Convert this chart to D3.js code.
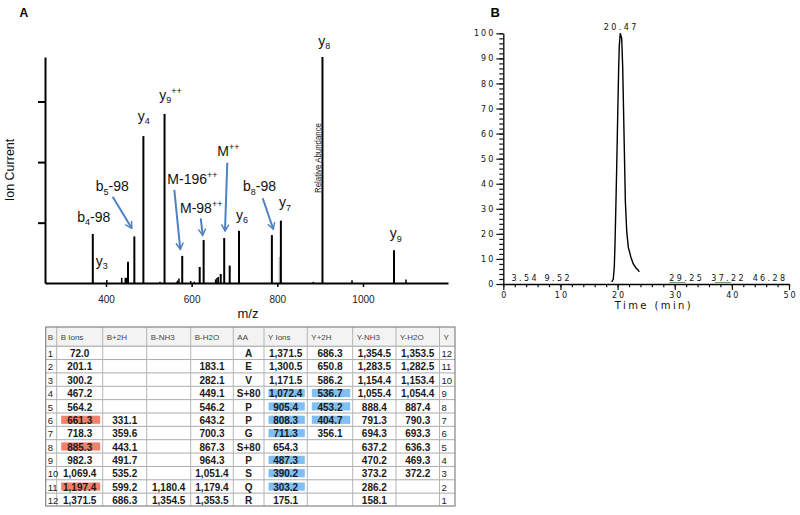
<!DOCTYPE html>
<html><head><meta charset="utf-8">
<script src="https://cdn.jsdelivr.net/npm/d3@7"></script>
<style>body{margin:0;background:#fff}svg{display:block}</style>
</head><body>
<svg id="c" width="800" height="515"></svg>
<script>
// ================= DATA =================
// Panel A: MS/MS spectrum (m/z, relative intensity, y8 = 100)
const peakMz        = [369.2, 402, 436.7, 445, 448, 451.4, 466.2, 487.3, 526, 536.7, 565, 567.4, 570.4, 578, 597.8, 606, 618.8, 628, 656, 659, 662, 667.8, 676, 688.8, 710.5, 787.3, 808.3, 884, 905.4, 974.4, 1072.4, 1100.4];
const peakIntensity = [21.7, 1.3, 2.3, 2.3, 2.3, 9.4, 20.6, 65, 0.5, 74.8, 0.5, 1.1, 2.0, 12, 0.9, 0.5, 7.1, 19, 1.6, 2.2, 2.7, 4.0, 19.9, 7.7, 23.1, 21.2, 27.6, 0.5, 100, 1.2, 14.5, 1.5];
const minorPeakMz        = [804.6];
const minorPeakIntensity = [11.6];
const mzTicks        = [400, 600, 800, 1000];
const intensityTicks = [26.7, 53.5, 80.3];
// ion labels: [text, kind] parts
const ionLabels = [
  [["y",""],["8","sub"]],
  [["y",""],["9","sub"],["++","sup"]],
  [["y",""],["4","sub"]],
  [["b",""],["5","sub"],["-98",""]],
  [["b",""],["4","sub"],["-98",""]],
  [["M-196",""],["++","sup"]],
  [["M-98",""],["++","sup"]],
  [["M",""],["++","sup"]],
  [["b",""],["8","sub"],["-98",""]],
  [["y",""],["6","sub"]],
  [["y",""],["7","sub"]],
  [["y",""],["9","sub"]],
  [["y",""],["3","sub"]]
];

// Table of fragment ions
const bNum  = ["1","2","3","4","5","6","7","8","9","10","11","12"];
const bIons = ["72.0","201.1","300.2","467.2","564.2","661.3","718.3","885.3","982.3","1,069.4","1,197.4","1,371.5"];
const b2H   = ["","","","","","331.1","359.6","443.1","491.7","535.2","599.2","686.3"];
const bNH3  = ["","","","","","","","","","","1,180.4","1,354.5"];
const bH2O  = ["","183.1","282.1","449.1","546.2","643.2","700.3","867.3","964.3","1,051.4","1,179.4","1,353.5"];
const aa    = ["A","E","V","S+80","P","P","G","S+80","P","S","Q","R"];
const yIons = ["1,371.5","1,300.5","1,171.5","1,072.4","905.4","808.3","711.3","654.3","487.3","390.2","303.2","175.1"];
const y2H   = ["686.3","650.8","586.2","536.7","453.2","404.7","356.1","","","","",""];
const yNH3  = ["1,354.5","1,283.5","1,154.4","1,055.4","888.4","791.3","694.3","637.2","470.2","373.2","286.2","158.1"];
const yH2O  = ["1,353.5","1,282.5","1,153.4","1,054.4","887.4","790.3","693.3","636.3","469.3","372.2","",""];
const yNum  = ["12","11","10","9","8","7","6","5","4","3","2","1"];
const bIonsMatched = [6, 8, 11];
const yIonsMatched = [4, 5, 6, 7, 9, 10, 11];
const y2HMatched   = [4, 5, 6];
const tableHeads = ["B","B Ions","B+2H","B-NH3","B-H2O","AA","Y Ions","Y+2H","Y-NH3","Y-H2O","Y"];

// Panel B: chromatogram
const chromTime  = [18.97, 19.25, 19.43, 19.55, 19.72, 19.84, 19.96, 20.07, 20.19, 20.30, 20.47, 20.72, 20.90, 21.13, 21.36, 21.60, 21.88, 22.35, 22.75, 23.22, 23.50, 23.80];
const chromValue = [0.8, 2, 7, 16, 33, 46, 59.6, 72.8, 86, 95, 100, 98, 86, 59.6, 33, 21, 14.6, 10.6, 8, 6.4, 5.8, 4.8];
const chromApex  = 20.47;
const chromPeakLabels = [3.54, 9.52, 29.25, 37.22, 46.28];
const timeTicks  = [0, 10, 20, 30, 40, 50];
const abundTicks = [0, 10, 20, 30, 40, 50, 60, 70, 80, 90, 100];

// ================= LAYOUT =================
// ion label anchor positions in data space [m/z, intensity]
const ionLabelPos = [[895.7,104.9],[524.5,81.0],[474.0,71.7],[376.0,40.7],[333.0,27.0],[543.2,43.8],[572.8,31.0],[659.9,56.2],[719.9,40.7],[703.6,27.9],[804.0,33.6],[1062.3,19.9],[376.0,7.7]];
const arrowPos = [
  [[415.7,38.2],[460.1,24.2]],
  [[559.5,41.2],[573.5,14.9]],
  [[621.2,28.6],[625.9,21.1]],
  [[683.2,53.2],[677.8,23.0]],
  [[765.9,37.5],[790.6,23.8]]
];
const chromLabelShift = [0.1, -0.1, 2.65, 2.0, 0.2];
const colEdges = [45.7, 56.7, 102.7, 146.7, 190.7, 233.3, 264, 307.3, 352.7, 396, 439.5, 455];

const svg = d3.select('#c');
const FA = "'Liberation Sans', Arial, sans-serif";
const FB = "'DejaVu Sans', sans-serif";
const BLUE_ARROW = '#4f82c0';

// ---------- Panel A: spectrum ----------
const xA = d3.scaleLinear().domain([257.6, 1198.5]).range([45, 448]);
const yA = d3.scaleLinear().domain([0, 100]).range([283, 57]);

const gA = svg.append('g');
gA.append('text').attr('x', 19.5).attr('y', 16.5).attr('font-family', FA).attr('font-weight', 'bold').attr('font-size', 12).text('A');

const peaks = peakMz.map((m, i) => ({m, v: peakIntensity[i]}));
gA.append('g').selectAll('line').data(peaks).join('line')
  .attr('x1', d => xA(d.m)).attr('x2', d => xA(d.m))
  .attr('y1', yA(0)).attr('y2', d => yA(d.v))
  .attr('stroke', '#000').attr('stroke-width', d => d.v > 3 ? 2 : 1.5);
gA.append('g').selectAll('line').data(minorPeakMz.map((m, i) => ({m, v: minorPeakIntensity[i]}))).join('line')
  .attr('x1', d => xA(d.m)).attr('x2', d => xA(d.m))
  .attr('y1', yA(0)).attr('y2', d => yA(d.v))
  .attr('stroke', '#9a9a9a').attr('stroke-width', 1);

const axXA = gA.append('g').attr('transform', `translate(0,${yA(0)})`)
  .call(d3.axisBottom(xA).tickValues(mzTicks).tickSize(4).tickSizeOuter(0).tickPadding(9).tickFormat(d3.format('d')));
axXA.select('.domain').attr('stroke-width', 2);
axXA.selectAll('.tick line').attr('stroke-width', 1.5);
axXA.selectAll('text').attr('font-family', FA).attr('font-size', 10).attr('fill', '#222');

const axYA = gA.append('g').attr('transform', `translate(${xA.range()[0]},0)`)
  .call(d3.axisLeft(yA).tickValues(intensityTicks).tickSize(7).tickSizeOuter(0).tickFormat(''));
axYA.select('.domain').attr('stroke-width', 2);
axYA.selectAll('.tick line').attr('stroke-width', 2);

gA.append('text').attr('transform', 'translate(14,170) rotate(-90)').attr('text-anchor', 'middle')
  .attr('font-family', FA).attr('font-size', 12.5).attr('fill', '#111').text('Ion Current');
gA.append('text').attr('x', 248).attr('y', 318).attr('text-anchor', 'middle')
  .attr('font-family', FA).attr('font-size', 13).attr('fill', '#111').text('m/z');
gA.append('text').attr('transform', `translate(${xA(905.4) - 1.5},158) rotate(-90)`).attr('text-anchor', 'middle')
  .attr('font-family', FA).attr('font-size', 9).attr('textLength', 70).attr('lengthAdjust', 'spacingAndGlyphs')
  .attr('fill', '#222').text('Relative Abundance');

// ion labels
ionLabels.forEach((parts, i) => {
  const t = gA.append('text').attr('x', xA(ionLabelPos[i][0])).attr('y', yA(ionLabelPos[i][1]))
    .attr('font-family', FA).attr('font-size', 14).attr('fill', '#111');
  let shift = 0;
  parts.forEach(([s, kind]) => {
    const target = kind === 'sub' ? 3.5 : kind === 'sup' ? -6 : 0;
    t.append('tspan').attr('dy', target - shift).attr('font-size', kind ? 9 : 14).text(s);
    shift = target;
  });
});

// arrows
const defs = svg.append('defs');
defs.append('marker').attr('id', 'ah').attr('viewBox', '0 0 10 10').attr('refX', 8.5).attr('refY', 5)
  .attr('markerWidth', 4.6).attr('markerHeight', 4.6).attr('orient', 'auto')
  .append('path').attr('d', 'M1.5,1 L8.5,5 L1.5,9').attr('fill', 'none').attr('stroke', BLUE_ARROW).attr('stroke-width', 1.6)
  .attr('stroke-linejoin', 'miter');
gA.append('g').selectAll('line').data(arrowPos).join('line')
  .attr('x1', d => xA(d[0][0])).attr('y1', d => yA(d[0][1]))
  .attr('x2', d => xA(d[1][0])).attr('y2', d => yA(d[1][1]))
  .attr('stroke', BLUE_ARROW).attr('stroke-width', 2).attr('marker-end', 'url(#ah)');

// ---------- Table ----------
const gT = svg.append('g');
const rowsIdx = d3.range(1, 13);
const rowY = d3.scaleBand().domain(rowsIdx).range([345.7, 506]);
const headTop = 327, tLeft = colEdges[0], tRight = colEdges[colEdges.length - 1], tBottom = rowY.range()[1];
const columns = [
  {vals: bNum,  type: 'idx'},
  {vals: bIons, hl: bIonsMatched, hlColor: '#f2806b'},
  {vals: b2H},
  {vals: bNH3},
  {vals: bH2O},
  {vals: aa},
  {vals: yIons, hl: yIonsMatched, hlColor: '#80bff2'},
  {vals: y2H,   hl: y2HMatched,   hlColor: '#80bff2'},
  {vals: yNH3},
  {vals: yH2O},
  {vals: yNum,  type: 'idx'}
];
gT.append('rect').attr('x', tLeft).attr('y', headTop).attr('width', tRight - tLeft).attr('height', rowY.range()[0] - headTop)
  .attr('fill', '#f3f3f3');
// highlights
columns.forEach((c, ci) => {
  if (!c.hl) return;
  gT.append('g').selectAll('rect').data(c.hl).join('rect')
    .attr('x', colEdges[ci] + 4.5).attr('width', colEdges[ci + 1] - colEdges[ci] - 7)
    .attr('y', d => rowY(d) + 3.2).attr('height', rowY.bandwidth() - 5.2)
    .attr('fill', c.hlColor);
});
// grid
gT.append('g').selectAll('line').data(rowsIdx).join('line')
  .attr('x1', tLeft).attr('x2', tRight).attr('y1', d => rowY(d) + 0.5).attr('y2', d => rowY(d) + 0.5)
  .attr('stroke', d => d === 1 ? '#9a9a9a' : '#ababab').attr('stroke-width', 1);
gT.append('g').selectAll('line').data(colEdges.slice(1, -1)).join('line')
  .attr('x1', d => d).attr('x2', d => d).attr('y1', headTop).attr('y2', tBottom)
  .attr('stroke', '#b4b4b4').attr('stroke-width', 1);
gT.append('rect').attr('x', tLeft).attr('y', headTop).attr('width', tRight - tLeft).attr('height', tBottom - headTop)
  .attr('fill', 'none').attr('stroke', '#858585').attr('stroke-width', 1.2);
// header text
gT.append('g').selectAll('text').data(tableHeads).join('text')
  .attr('x', (d, i) => colEdges[i] + (i === 0 ? 2 : 4)).attr('y', 340)
  .attr('font-family', FA).attr('font-size', 8).attr('fill', '#444').text(d => d);
// cell text
columns.forEach((c, ci) => {
  const cx = c.type === 'idx' ? colEdges[ci] + 2 : (colEdges[ci] + colEdges[ci + 1]) / 2;
  gT.append('g').selectAll('text').data(c.vals).join('text')
    .attr('x', cx).attr('y', (d, i) => rowY(i + 1) + 11.4)
    .attr('text-anchor', c.type === 'idx' ? 'start' : 'middle')
    .attr('font-family', FA).attr('font-size', c.type === 'idx' ? 9.5 : 10)
    .attr('font-weight', c.type === 'idx' ? 'normal' : 'bold')
    .attr('fill', '#1a1a1a').text(d => d);
});

// ---------- Panel B: chromatogram ----------
const xB = d3.scaleLinear().domain([0, 50]).range([503.3, 789]);
const yB = d3.scaleLinear().domain([0, 100]).range([284, 33.3]);
const gB = svg.append('g');
gB.append('text').attr('x', 490.5).attr('y', 16.5).attr('font-family', FA).attr('font-weight', 'bold').attr('font-size', 13).text('B');

const minorX = gB.append('g').attr('transform', `translate(0,${yB(0)})`)
  .call(d3.axisBottom(xB).tickValues(d3.range(0, 51, 2)).tickSize(3.3).tickSizeOuter(0).tickFormat(''));
minorX.select('.domain').attr('stroke-width', 1.3);
const majorX = gB.append('g').attr('transform', `translate(0,${yB(0)})`)
  .call(d3.axisBottom(xB).tickValues(timeTicks).tickSize(6).tickSizeOuter(0).tickPadding(2.5));
majorX.select('.domain').remove();
majorX.selectAll('text').attr('font-family', FB).attr('font-size', 8).attr('letter-spacing', '2px').attr('dx', 1).attr('fill', '#111');

const minorY = gB.append('g').attr('transform', `translate(${xB(0)},0)`)
  .call(d3.axisLeft(yB).tickValues(d3.range(0, 101, 2)).tickSize(4).tickSizeOuter(0).tickFormat(''));
minorY.select('.domain').attr('stroke-width', 1.3);
const majorY = gB.append('g').attr('transform', `translate(${xB(0)},0)`)
  .call(d3.axisLeft(yB).tickValues(abundTicks).tickSize(7).tickSizeOuter(0).tickPadding(1));
majorY.select('.domain').remove();
majorY.selectAll('text').attr('font-family', FB).attr('font-size', 8).attr('letter-spacing', '2px').attr('fill', '#111');
gB.selectAll('.tick line').attr('stroke', '#111').attr('stroke-width', 1.2);

gB.append('text').attr('x', 654).attr('y', 308.5).attr('text-anchor', 'middle')
  .attr('font-family', FB).attr('font-size', 10).attr('letter-spacing', '2.4px').attr('fill', '#111').text('Time (min)');

const line = d3.line().x((d, i) => xB(chromTime[i])).y(d => yB(d));
gB.append('path').datum(chromValue).attr('d', line).attr('fill', 'none').attr('stroke', '#000').attr('stroke-width', 1.4);

gB.append('text').attr('x', xB(chromApex) + 1).attr('y', yB(100) - 3.5).attr('text-anchor', 'middle')
  .attr('font-family', FB).attr('font-size', 8).attr('letter-spacing', '2.4px').attr('fill', '#111').text(d3.format('.2f')(chromApex));
gB.append('g').selectAll('text').data(chromPeakLabels).join('text')
  .attr('x', (d, i) => xB(d + chromLabelShift[i]) + 1.2).attr('y', yB(0) - 3.5).attr('text-anchor', 'middle')
  .attr('font-family', FB).attr('font-size', 8).attr('letter-spacing', '2.4px').attr('fill', '#111')
  .text(d => d3.format('.2f')(d));
gB.append('g').selectAll('line').data(chromPeakLabels.filter((d, i) => i === 2 || i === 3)).join('line')
  .attr('x1', d => xB(d - 0.2)).attr('x2', d => xB(d + 2.6)).attr('y1', yB(0) - 1.5).attr('y2', yB(0) - 1.5)
  .attr('stroke', '#6a9e6a').attr('stroke-width', 1);
</script>
</body></html>
